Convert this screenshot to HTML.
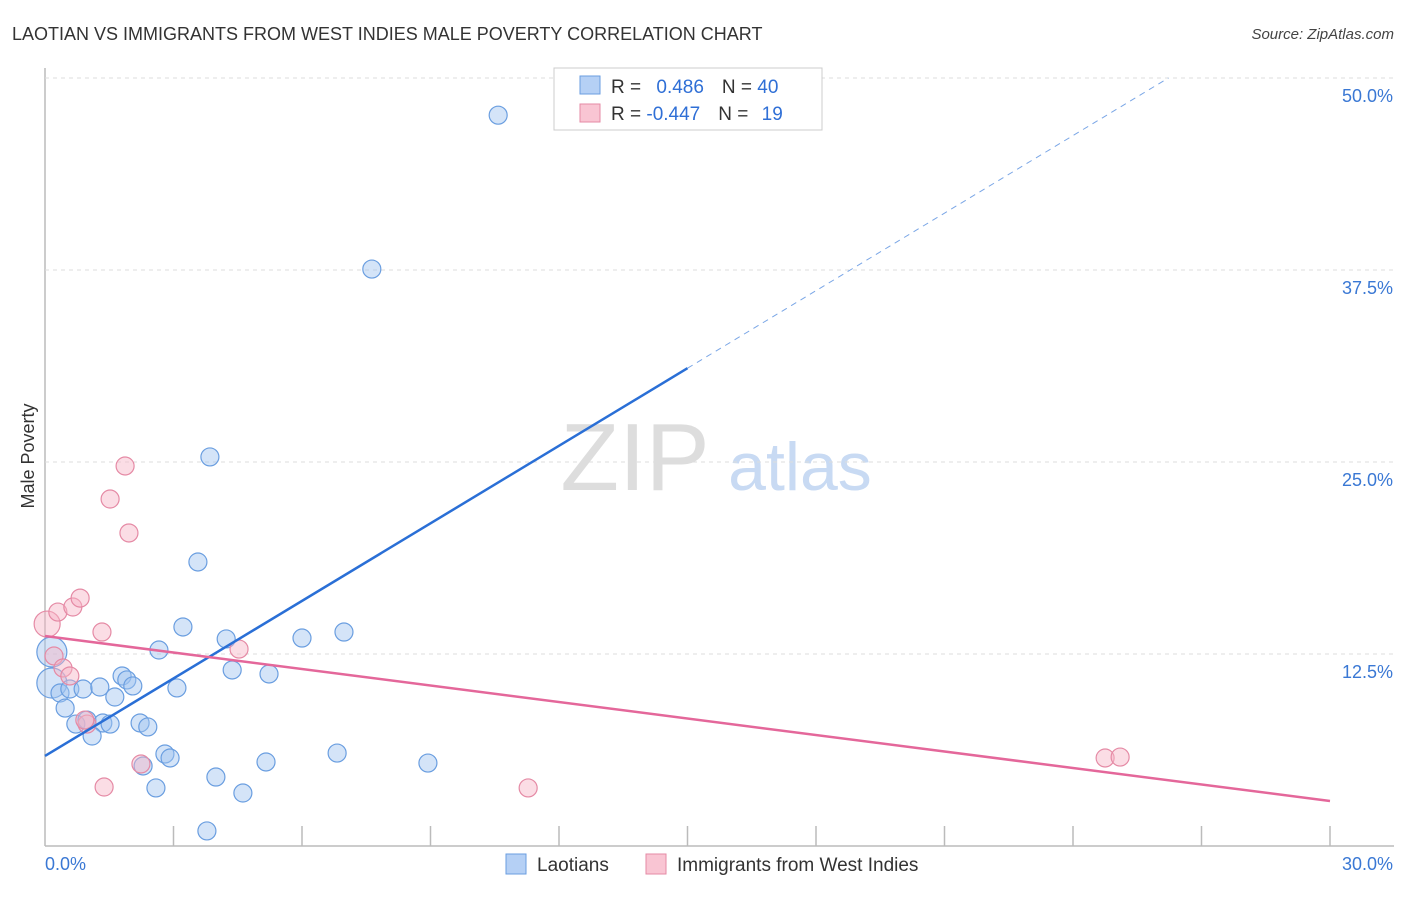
<!DOCTYPE html>
<html><head><meta charset="utf-8"><style>
body{margin:0;background:#fff;font-family:"Liberation Sans",sans-serif}
svg text{font-family:"Liberation Sans",sans-serif}
</style></head><body>
<svg id="c" width="1406" height="892">
<text x="12" y="40" font-size="18" fill="#333">LAOTIAN VS IMMIGRANTS FROM WEST INDIES MALE POVERTY CORRELATION CHART</text>
<text x="1394" y="39" font-size="15" fill="#444" font-style="italic" text-anchor="end">Source: ZipAtlas.com</text>
<text x="635" y="490" font-size="96" fill="#ddd" font-family="Liberation Serif" text-anchor="middle">ZIP</text>
<text x="800" y="490" font-size="68" fill="#c8daf3" text-anchor="middle">atlas</text>
<text transform="translate(34,456) rotate(-90)" font-size="18" fill="#333" text-anchor="middle">Male Poverty</text>
<g id="grid"></g><g id="pts"></g><g id="lines"></g>
<g>
<rect x="554" y="68" width="268" height="62" fill="#fff" stroke="#ccc"/>
<rect x="580" y="76" width="20" height="18" fill="#b5d0f5" stroke="#6a9ee0"/>
<text x="611" y="93" font-size="19" fill="#333">R = <tspan fill="#2f6fd6" dx="10">0.486</tspan><tspan dx="18" fill="#333">N = </tspan><tspan fill="#2f6fd6">40</tspan></text>
<rect x="580" y="104" width="20" height="18" fill="#f9c5d3" stroke="#e58aa5"/>
<text x="611" y="120" font-size="19" fill="#333">R = <tspan fill="#2f6fd6">-0.447</tspan><tspan dx="18" fill="#333">N = </tspan><tspan fill="#2f6fd6" dx="8">19</tspan></text>
</g>
<g>
<rect x="506" y="854" width="20" height="20" fill="#b5d0f5" stroke="#6a9ee0"/>
<text x="537" y="871" font-size="19" fill="#333">Laotians</text>
<rect x="646" y="854" width="20" height="20" fill="#f9c5d3" stroke="#e58aa5"/>
<text x="677" y="871" font-size="19" fill="#333">Immigrants from West Indies</text>
</g>
</svg>
<script>
const yTicks=[12.5,25,37.5,50];
const yTickLabels=["12.5%","25.0%","37.5%","50.0%"];
const blueX=[10.58,7.63,3.85,3.57,3.22,2.66,4.23,6.00,6.98,0.16,0.16,0.35,0.58,0.89,1.28,1.63,1.80,1.91,2.05,3.08,4.37,5.23,0.47,0.72,0.98,1.35,1.52,1.10,2.22,2.40,2.80,2.92,2.29,3.99,5.16,6.82,8.94,2.59,4.62,3.78];
const blueY=[47.58,37.56,25.33,18.49,14.26,12.76,13.48,13.54,13.93,12.63,10.61,9.96,10.22,10.22,10.35,9.70,11.07,10.81,10.42,10.29,11.46,11.20,8.98,7.94,8.20,8.01,7.94,7.16,8.01,7.75,5.99,5.73,5.21,4.49,5.47,6.05,5.40,3.78,3.45,0.98];
const pinkX=[0.05,0.30,0.65,0.82,1.33,0.21,0.42,0.58,0.98,0.93,1.87,1.52,1.96,4.53,2.24,1.38,11.28,24.75,25.10];
const pinkY=[14.45,15.23,15.56,16.14,13.93,12.37,11.59,11.07,7.94,8.20,24.74,22.59,20.38,12.82,5.34,3.84,3.78,5.73,5.79];
const blueTrend=[5.86,1.683];
const pinkTrend=[13.67,-0.358];
const X=v=>45+v/30*1285, Y=v=>846-v/50*768;
const NS="http://www.w3.org/2000/svg";
function mk(t,a,p){const e=document.createElementNS(NS,t);for(const k in a)e.setAttribute(k,a[k]);p.appendChild(e);return e;}
const g=document.getElementById('grid');
const ax=mk('line',{x1:45,y1:68,x2:45,y2:846,stroke:'#bbb','stroke-width':1.5},g);


const bx=mk('line',{x1:45,y1:846,x2:1394,y2:846,stroke:'#bbb','stroke-width':1.5},g);


yTicks.forEach((t,i)=>{
 const l=mk('line',{x1:45,y1:Y(t),x2:1394,y2:Y(t),stroke:'#ddd','stroke-dasharray':'4,4'},g);
 
 
 const tx=mk('text',{x:1393,y:Y(t)+24,'font-size':18,fill:'#3a78d4','text-anchor':'end'},g);
 tx.textContent=yTickLabels[i];
 
 
});
for(let i=1;i<=10;i++){const v=i*3;
 const l=mk('line',{x1:X(v),y1:826,x2:X(v),y2:846,stroke:'#bbb','stroke-width':1.5},g);
 
 }
const x0=mk('text',{x:45,y:870,'font-size':18,fill:'#3a78d4'},g);x0.textContent='0.0%';


const x1=mk('text',{x:1393,y:870,'font-size':18,fill:'#3a78d4','text-anchor':'end'},g);x1.textContent='30.0%';


const P=document.getElementById('pts');
blueX.forEach((v,i)=>{const c=mk('circle',{cx:X(v),cy:Y(blueY[i]),r:(i==9||i==10)?15:9,fill:'rgba(160,196,240,0.45)',stroke:'#6a9ee0','stroke-width':1.2},P);
 
 });
pinkX.forEach((v,i)=>{const c=mk('circle',{cx:X(v),cy:Y(pinkY[i]),r:i==0?13:9,fill:'rgba(247,180,198,0.45)',stroke:'#e58aa5','stroke-width':1.2},P);
 
 });
const L=document.getElementById('lines');
const b1=mk('line',{x1:X(0),y1:Y(blueTrend[0]),x2:X(15),y2:Y(blueTrend[0]+15*blueTrend[1]),stroke:'#2a6fd6','stroke-width':2.5},L);


const xe=(50-blueTrend[0])/blueTrend[1];
const b2=mk('line',{x1:X(15),y1:Y(blueTrend[0]+15*blueTrend[1]),x2:X(xe),y2:Y(50),stroke:'#7aa6e6','stroke-width':1,'stroke-dasharray':'6,5'},L);


const p1=mk('line',{x1:X(0),y1:Y(pinkTrend[0]),x2:X(30),y2:Y(pinkTrend[0]+30*pinkTrend[1]),stroke:'#e4679a','stroke-width':2.5},L);


</script>
</body></html>
